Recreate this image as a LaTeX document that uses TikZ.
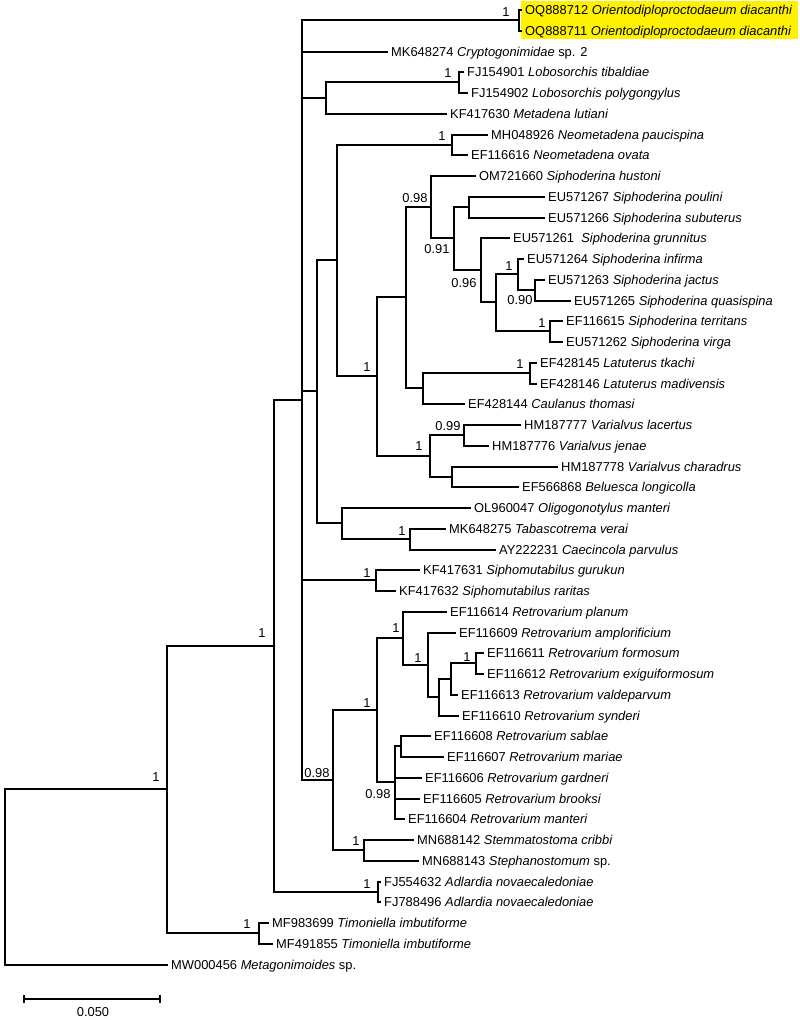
\documentclass[tikz,border=0pt]{standalone}
\usepackage{fontspec}
\setmainfont{Liberation Sans}
\usetikzlibrary{arrows.meta}

\begin{document}
\begin{tikzpicture}[x=1pt, y=-1pt,
leaf/.style={anchor=west,
inner xsep=3pt,
inner ysep=0pt,
text height=9.1pt,
text depth=0pt,
font=\fontsize{12.9}{15}\selectfont},
supp/.style={inner sep=0pt, font=\fontsize{12.9}{15}\selectfont},
branch/.style={line width=2pt},
hl/.style={fill=yellow}
]

\useasboundingbox (0,0) rectangle (800,1020);

% highlighted new sequences
\fill[hl] (521,1) rectangle (798,39);

% taxa
\node[leaf] (oq888712) at (522,10) {OQ888712 \textit{Orientodiploproctodaeum diacanthi}};
\node[leaf] (oq888711) at (522,31) {OQ888711 \textit{Orientodiploproctodaeum diacanthi}};
\node[leaf] (mk648274) at (388,52) {MK648274 \textit{Cryptogonimidae} sp. 2};
\node[leaf] (fj154901) at (464,72) {FJ154901 \textit{Lobosorchis tibaldiae}};
\node[leaf] (fj154902) at (468,93) {FJ154902 \textit{Lobosorchis polygongylus}};
\node[leaf] (kf417630) at (447,114) {KF417630 \textit{Metadena lutiani}};
\node[leaf] (mh048926) at (488,135) {MH048926 \textit{Neometadena paucispina}};
\node[leaf] (ef116616) at (468,155) {EF116616 \textit{Neometadena ovata}};
\node[leaf] (om721660) at (476,176) {OM721660 \textit{Siphoderina hustoni}};
\node[leaf] (eu571267) at (545,197) {EU571267 \textit{Siphoderina poulini}};
\node[leaf] (eu571266) at (545,218) {EU571266 \textit{Siphoderina subuterus}};
\node[leaf] (eu571261) at (510,238) {EU571261\ \ \textit{Siphoderina grunnitus}};
\node[leaf] (eu571264) at (524,259) {EU571264 \textit{Siphoderina infirma}};
\node[leaf] (eu571263) at (545,280) {EU571263 \textit{Siphoderina jactus}};
\node[leaf] (eu571265) at (571,301) {EU571265 \textit{Siphoderina quasispina}};
\node[leaf] (ef116615) at (563,321) {EF116615 \textit{Siphoderina territans}};
\node[leaf] (eu571262) at (563,342) {EU571262 \textit{Siphoderina virga}};
\node[leaf] (ef428145) at (537,363) {EF428145 \textit{Latuterus tkachi}};
\node[leaf] (ef428146) at (537,384) {EF428146 \textit{Latuterus madivensis}};
\node[leaf] (ef428144) at (465,404) {EF428144 \textit{Caulanus thomasi}};
\node[leaf] (hm187777) at (521,425) {HM187777 \textit{Varialvus lacertus}};
\node[leaf] (hm187776) at (489,446) {HM187776 \textit{Varialvus jenae}};
\node[leaf] (hm187778) at (558,467) {HM187778 \textit{Varialvus charadrus}};
\node[leaf] (ef566868) at (519,487) {EF566868 \textit{Beluesca longicolla}};
\node[leaf] (ol960047) at (471,508) {OL960047 \textit{Oligogonotylus manteri}};
\node[leaf] (mk648275) at (446,529) {MK648275 \textit{Tabascotrema verai}};
\node[leaf] (ay222231) at (496,550) {AY222231 \textit{Caecincola parvulus}};
\node[leaf] (kf417631) at (420,570) {KF417631 \textit{Siphomutabilus gurukun}};
\node[leaf] (kf417632) at (396,591) {KF417632 \textit{Siphomutabilus raritas}};
\node[leaf] (ef116614) at (447,612) {EF116614 \textit{Retrovarium planum}};
\node[leaf] (ef116609) at (456,633) {EF116609 \textit{Retrovarium amplorificium}};
\node[leaf] (ef116611) at (484,653) {EF116611 \textit{Retrovarium formosum}};
\node[leaf] (ef116612) at (484,674) {EF116612 \textit{Retrovarium exiguiformosum}};
\node[leaf] (ef116613) at (458,695) {EF116613 \textit{Retrovarium valdeparvum}};
\node[leaf] (ef116610) at (459,716) {EF116610 \textit{Retrovarium synderi}};
\node[leaf] (ef116608) at (431,736) {EF116608 \textit{Retrovarium sablae}};
\node[leaf] (ef116607) at (444,757) {EF116607 \textit{Retrovarium mariae}};
\node[leaf] (ef116606) at (422,778) {EF116606 \textit{Retrovarium gardneri}};
\node[leaf] (ef116605) at (420,799) {EF116605 \textit{Retrovarium brooksi}};
\node[leaf] (ef116604) at (405,819) {EF116604 \textit{Retrovarium manteri}};
\node[leaf] (mn688142) at (414,840) {MN688142 \textit{Stemmatostoma cribbi}};
\node[leaf] (mn688143) at (419,861) {MN688143 \textit{Stephanostomum} sp.};
\node[leaf] (fj554632) at (381,882) {FJ554632 \textit{Adlardia novaecaledoniae}};
\node[leaf] (fj788496) at (381,902) {FJ788496 \textit{Adlardia novaecaledoniae}};
\node[leaf] (mf983699) at (269,923) {MF983699 \textit{Timoniella imbutiforme}};
\node[leaf] (mf491855) at (273,944) {MF491855 \textit{Timoniella imbutiforme}};
\node[leaf] (mw000456) at (168,965) {MW000456 \textit{Metagonimoides} sp.};

% internal nodes
\coordinate (root) at (5,877);
\coordinate (core) at (167,789);
\coordinate (crypto) at (274,646);
\coordinate (backbone) at (302,400);
\coordinate (orient) at (519,20);
\coordinate (lobmet) at (326,98);
\coordinate (lobos) at (459,82);
\coordinate (siphgrp) at (317,391);
\coordinate (neogrp) at (337,260);
\coordinate (neomet) at (452,145);
\coordinate (siphvar) at (377,376);
\coordinate (siphlat) at (406,297);
\coordinate (sipho) at (431,207);
\coordinate (sipho2) at (454,238);
\coordinate (sipho3) at (469,207);
\coordinate (sipho4) at (481,270);
\coordinate (sipho5) at (496,302);
\coordinate (sipho6) at (518,274);
\coordinate (sipho7) at (535,290);
\coordinate (sipho8) at (550,331);
\coordinate (latcau) at (423,388);
\coordinate (latut) at (530,373);
\coordinate (varbel) at (430,456);
\coordinate (varial) at (464,435);
\coordinate (varchar) at (452,477);
\coordinate (oligo) at (342,523);
\coordinate (tabcae) at (410,539);
\coordinate (siphom) at (376,580);
\coordinate (retstem) at (333,780);
\coordinate (retro) at (377,710);
\coordinate (retro1) at (403,638);
\coordinate (retro2) at (428,665);
\coordinate (retro3) at (439,697);
\coordinate (retro4) at (451,679);
\coordinate (retro5) at (476,663);
\coordinate (retro6) at (395,782);
\coordinate (retro7) at (401,746);
\coordinate (stemm) at (364,850);
\coordinate (adlard) at (378,892);
\coordinate (timon) at (259,933);

% branches
\draw[branch] (root) |- (core) (root) |- (mw000456.west);
\draw[branch] (core) |- (crypto) (core) |- (timon);
\draw[branch] (crypto) |- (backbone) (crypto) |- (adlard);
\draw[branch] (backbone) |- (orient) (backbone) |- (mk648274.west) (backbone) |- (lobmet)
  (backbone) |- (siphgrp) (backbone) |- (siphom) (backbone) |- (retstem);
\draw[branch] (orient) |- (oq888712.west) (orient) |- (oq888711.west);
\draw[branch] (lobmet) |- (lobos) (lobmet) |- (kf417630.west);
\draw[branch] (lobos) |- (fj154901.west) (lobos) |- (fj154902.west);
\draw[branch] (siphgrp) |- (neogrp) (siphgrp) |- (oligo);
\draw[branch] (neogrp) |- (neomet) (neogrp) |- (siphvar);
\draw[branch] (neomet) |- (mh048926.west) (neomet) |- (ef116616.west);
\draw[branch] (siphvar) |- (siphlat) (siphvar) |- (varbel);
\draw[branch] (siphlat) |- (sipho) (siphlat) |- (latcau);
\draw[branch] (sipho) |- (om721660.west) (sipho) |- (sipho2);
\draw[branch] (sipho2) |- (sipho3) (sipho2) |- (sipho4);
\draw[branch] (sipho3) |- (eu571267.west) (sipho3) |- (eu571266.west);
\draw[branch] (sipho4) |- (eu571261.west) (sipho4) |- (sipho5);
\draw[branch] (sipho5) |- (sipho6) (sipho5) |- (sipho8);
\draw[branch] (sipho6) |- (eu571264.west) (sipho6) |- (sipho7);
\draw[branch] (sipho7) |- (eu571263.west) (sipho7) |- (eu571265.west);
\draw[branch] (sipho8) |- (ef116615.west) (sipho8) |- (eu571262.west);
\draw[branch] (latcau) |- (latut) (latcau) |- (ef428144.west);
\draw[branch] (latut) |- (ef428145.west) (latut) |- (ef428146.west);
\draw[branch] (varbel) |- (varial) (varbel) |- (varchar);
\draw[branch] (varial) |- (hm187777.west) (varial) |- (hm187776.west);
\draw[branch] (varchar) |- (hm187778.west) (varchar) |- (ef566868.west);
\draw[branch] (oligo) |- (ol960047.west) (oligo) |- (tabcae);
\draw[branch] (tabcae) |- (mk648275.west) (tabcae) |- (ay222231.west);
\draw[branch] (siphom) |- (kf417631.west) (siphom) |- (kf417632.west);
\draw[branch] (retstem) |- (retro) (retstem) |- (stemm);
\draw[branch] (retro) |- (retro1) (retro) |- (retro6);
\draw[branch] (retro1) |- (ef116614.west) (retro1) |- (retro2);
\draw[branch] (retro2) |- (ef116609.west) (retro2) |- (retro3);
\draw[branch] (retro3) |- (retro4) (retro3) |- (ef116610.west);
\draw[branch] (retro4) |- (retro5) (retro4) |- (ef116613.west);
\draw[branch] (retro5) |- (ef116611.west) (retro5) |- (ef116612.west);
\draw[branch] (retro6) |- (retro7) (retro6) |- (ef116606.west) (retro6) |- (ef116605.west)
  (retro6) |- (ef116604.west);
\draw[branch] (retro7) |- (ef116608.west) (retro7) |- (ef116607.west);
\draw[branch] (stemm) |- (mn688142.west) (stemm) |- (mn688143.west);
\draw[branch] (adlard) |- (fj554632.west) (adlard) |- (fj788496.west);
\draw[branch] (timon) |- (mf983699.west) (timon) |- (mf491855.west);

% support values
\node[supp] (s1) at (506,12) {1};
\node[supp] (s2) at (448,73) {1};
\node[supp] (s3) at (442,136) {1};
\node[supp] (s4) at (415,198) {0.98};
\node[supp] (s5) at (437,249) {0.91};
\node[supp] (s6) at (464,283) {0.96};
\node[supp] (s7) at (509,266) {1};
\node[supp] (s8) at (520,300) {0.90};
\node[supp] (s9) at (542,323) {1};
\node[supp] (s10) at (367,367) {1};
\node[supp] (s11) at (520,364) {1};
\node[supp] (s12) at (419,446) {1};
\node[supp] (s13) at (448,426) {0.99};
\node[supp] (s14) at (402,531) {1};
\node[supp] (s15) at (367,573) {1};
\node[supp] (s16) at (317,773) {0.98};
\node[supp] (s17) at (367,703) {1};
\node[supp] (s18) at (396,628) {1};
\node[supp] (s19) at (418,658) {1};
\node[supp] (s20) at (467,657) {1};
\node[supp] (s21) at (378,794) {0.98};
\node[supp] (s22) at (356,841) {1};
\node[supp] (s23) at (367,884) {1};
\node[supp] (s24) at (247,924) {1};
\node[supp] (s25) at (156,777) {1};
\node[supp] (s26) at (262,633) {1};

% scale bar
\coordinate (sb0) at (23,999);
\coordinate (sb1) at (161,999);
\draw[line width=2pt, {Bar[width=8pt]}-{Bar[width=8pt]}] (sb0) -- (sb1);
\node[supp] (sblabel) at (93,1012) {0.050};

\end{tikzpicture}
\end{document}
